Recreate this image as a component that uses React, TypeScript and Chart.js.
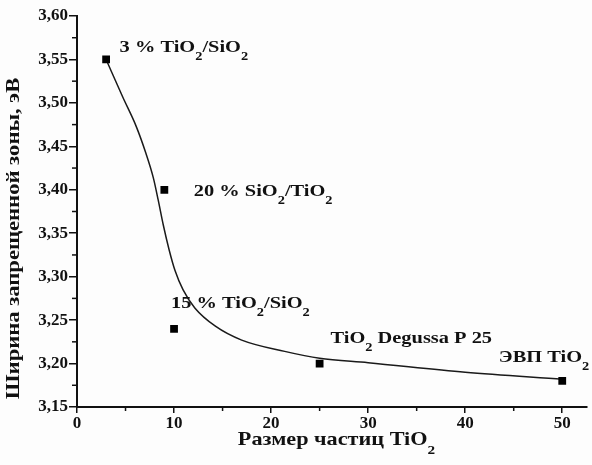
import { useEffect, useRef } from 'react';
import { Chart, registerables } from 'chart.js';

Chart.register(...registerables);

// Measured points: particle size vs band gap
const particleSizes = [3, 9, 10, 25, 50];
const bandGaps = [3.55, 3.40, 3.24, 3.20, 3.18];

// Fitted curve
const fitSizes = [3, 4.7, 6.1, 7.1, 7.86, 8.37, 8.88, 9.49, 10.1, 10.92, 12.14, 14.26, 16.97, 21.4, 25, 30, 40, 50];
const fitGaps = [3.55, 3.507, 3.473, 3.442, 3.414, 3.388, 3.36, 3.331, 3.307, 3.285, 3.264, 3.243, 3.227, 3.214, 3.206, 3.201, 3.19, 3.182];

// Tick values
const xTickValues = [0, 10, 20, 30, 40, 50];
const xMinorTickValues = [5, 15, 25, 35, 45];
const yTickValues = [3.15, 3.2, 3.25, 3.3, 3.35, 3.4, 3.45, 3.5, 3.55, 3.6];
const yMinorTickValues = [3.175, 3.225, 3.275, 3.325, 3.375, 3.425, 3.475, 3.525, 3.575];

// Point annotations ("_2" marks a subscript)
const annotationTexts = ['3 % TiO_2/SiO_2', '20 % SiO_2/TiO_2', '15 % TiO_2/SiO_2', 'TiO_2 Degussa P 25', 'ЭВП TiO_2'];
const annotationX = [4.39, 12.04, 9.69, 26.12, 43.47];
const annotationY = [3.5586, 3.3929, 3.264, 3.2237, 3.2019];

const xTitle = 'Размер частиц TiO_2';
const yTitle = 'Ширина запрещенной зоны, эВ';

const FONT_FAMILY = "'Liberation Serif', 'Times New Roman', serif";

function parseRich(text: string) {
  const segs: { t: string; sub: boolean }[] = [];
  let cur = '';
  for (let i = 0; i < text.length; i++) {
    if (text[i] === '_' && i + 1 < text.length) {
      if (cur) segs.push({ t: cur, sub: false });
      cur = '';
      segs.push({ t: text[i + 1], sub: true });
      i++;
    } else {
      cur += text[i];
    }
  }
  if (cur) segs.push({ t: cur, sub: false });
  return segs;
}

function drawRich(
  ctx: CanvasRenderingContext2D,
  text: string,
  x: number,
  y: number,
  size: number,
  sx: number,
  align: 'left' | 'center'
) {
  const segs = parseRich(text);
  const mainFont = `bold ${size}px ${FONT_FAMILY}`;
  const subFont = `bold ${Math.round(size * 0.7)}px ${FONT_FAMILY}`;
  let total = 0;
  const widths = segs.map((s) => {
    ctx.font = s.sub ? subFont : mainFont;
    const w = ctx.measureText(s.t).width;
    total += w;
    return w;
  });
  ctx.save();
  ctx.translate(x, y);
  ctx.scale(sx, 1);
  ctx.fillStyle = '#111';
  ctx.textBaseline = 'alphabetic';
  ctx.textAlign = 'left';
  let cx = align === 'center' ? -total / 2 : 0;
  segs.forEach((s, i) => {
    ctx.font = s.sub ? subFont : mainFont;
    ctx.fillText(s.t, cx, s.sub ? size * 0.45 : 0);
    cx += widths[i];
  });
  ctx.restore();
}

const decorPlugin = {
  id: 'decor',
  beforeDraw(chart: any) {
    const ctx = chart.ctx as CanvasRenderingContext2D;
    ctx.save();
    ctx.fillStyle = '#fdfdfd';
    ctx.fillRect(0, 0, chart.width, chart.height);
    ctx.restore();
  },
  afterDraw(chart: any) {
    const ctx = chart.ctx as CanvasRenderingContext2D;
    const xs = chart.scales.x;
    const ys = chart.scales.y;
    const area = chart.chartArea;
    ctx.save();
    ctx.strokeStyle = '#111';
    ctx.lineWidth = 1.5;
    xMinorTickValues.forEach((v) => {
      const px = xs.getPixelForValue(v);
      ctx.beginPath();
      ctx.moveTo(px, area.bottom);
      ctx.lineTo(px, area.bottom + 4);
      ctx.stroke();
    });
    yMinorTickValues.forEach((v) => {
      const py = ys.getPixelForValue(v);
      ctx.beginPath();
      ctx.moveTo(area.left, py);
      ctx.lineTo(area.left - 5, py);
      ctx.stroke();
    });
    ctx.restore();

    annotationTexts.forEach((t, i) => {
      drawRich(ctx, t, xs.getPixelForValue(annotationX[i]), ys.getPixelForValue(annotationY[i]), 17, 1.2, 'left');
    });

    drawRich(ctx, xTitle, 336.5, 445, 19, 1.17, 'center');
    ctx.save();
    ctx.translate(19, 238.5);
    ctx.rotate(-Math.PI / 2);
    drawRich(ctx, yTitle, 0, 0, 19, 1.19, 'center');
    ctx.restore();
  },
};

export default function App() {
  const canvasRef = useRef<HTMLCanvasElement | null>(null);

  useEffect(() => {
    document.body.style.margin = '0';
    const canvas = canvasRef.current;
    if (!canvas) return;
    const tickFont = { family: FONT_FAMILY, size: 17, weight: 'bold' as const };
    const chart = new Chart(canvas, {
      type: 'scatter',
      data: {
        datasets: [
          {
            data: particleSizes.map((x, i) => ({ x, y: bandGaps[i] })),
            pointStyle: 'rect',
            pointRadius: 5.5,
            pointBackgroundColor: '#000',
            pointBorderColor: '#000',
            pointBorderWidth: 0,
            showLine: false,
            order: 0,
          },
          {
            data: fitSizes.map((x, i) => ({ x, y: fitGaps[i] })),
            showLine: true,
            pointRadius: 0,
            borderColor: '#1a1a1a',
            borderWidth: 1.5,
            cubicInterpolationMode: 'monotone',
            order: 1,
          },
        ],
      },
      options: {
        responsive: false,
        animation: false,
        events: [],
        layout: { padding: { top: 16, right: 0, left: 0, bottom: 0 } },
        plugins: { legend: { display: false }, tooltip: { enabled: false } },
        scales: {
          x: {
            type: 'linear',
            position: 'bottom',
            min: 0,
            max: 52.5,
            afterBuildTicks: (s: any) => {
              s.ticks = xTickValues.map((v) => ({ value: v }));
            },
            afterFit: (s: any) => {
              s.height = 58;
            },
            ticks: {
              font: tickFont,
              color: '#111',
              padding: 0,
              maxRotation: 0,
              callback: (v: any) => String(v),
            },
            grid: { drawOnChartArea: false, drawTicks: true, tickLength: 6, color: '#111', lineWidth: 1.5 },
            border: { display: true, color: '#111', width: 2 },
          },
          y: {
            type: 'linear',
            min: 3.15,
            max: 3.6,
            afterBuildTicks: (s: any) => {
              s.ticks = yTickValues.map((v) => ({ value: v }));
            },
            afterFit: (s: any) => {
              s.width = 77;
            },
            ticks: {
              font: tickFont,
              color: '#111',
              padding: 1,
              callback: (v: any) => Number(v).toFixed(2).replace('.', ','),
            },
            grid: { drawOnChartArea: false, drawTicks: true, tickLength: 8, color: '#111', lineWidth: 1.5 },
            border: { display: true, color: '#111', width: 2 },
          },
        },
      },
      plugins: [decorPlugin],
    });
    return () => {
      chart.destroy();
    };
  }, []);

  return <canvas ref={canvasRef} width={592} height={465} style={{ display: 'block' }} />;
}
